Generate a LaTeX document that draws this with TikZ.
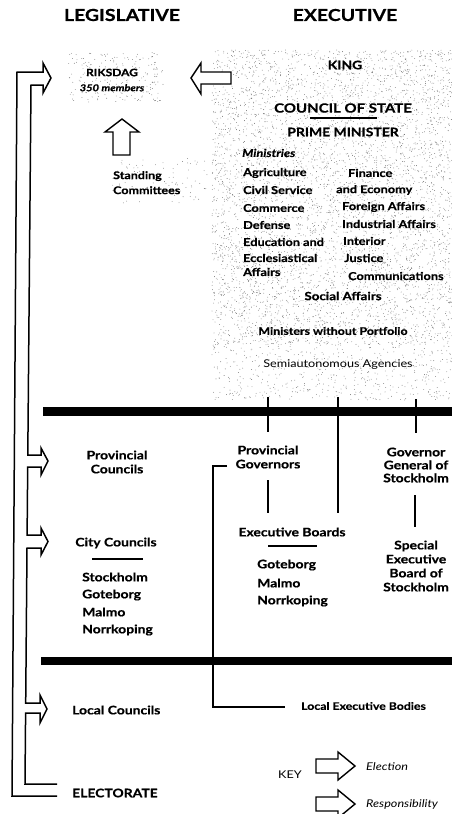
\documentclass[tikz,border=0pt]{standalone}
\usepackage{fontspec}
\setmainfont{Lato}[FakeStretch=1.18, BoldFeatures={FakeBold=0.6}, BoldItalicFeatures={FakeBold=0.6}]
\begin{document}
\begin{tikzpicture}[x=1pt,y=-1pt,
  title/.style={font=\bfseries\fontsize{16.5}{18}\selectfont, inner sep=0pt},
  lab/.style={font=\bfseries\fontsize{11.8}{14}\selectfont, inner sep=1pt, align=center},
  labl/.style={lab, inner sep=0pt, anchor=west, align=left},
  mlab/.style={font=\bfseries\fontsize{10.8}{14}\selectfont, inner sep=0pt, anchor=west, align=left},
  plain/.style={font=\fontsize{10.7}{13}\selectfont, inner sep=0pt},
  rule/.style={line width=1.3pt},
  bar/.style={fill=black},
  blockarrow/.style={draw, line width=1.4pt, fill=white, line join=miter},
  stip/.style={fill=black!55}]
\useasboundingbox (0,0) rectangle (452,814);
\clip (0,0) rectangle (452,814);

% stippled tone behind the executive block and the Riksdag
\pgfmathsetseed{42}
\foreach \i in {1,...,5200}{
  \pgfmathsetmacro\sx{212+240*rnd}\pgfmathsetmacro\sy{50+295*rnd}
  \fill[stip] (\sx,\sy) circle (0.42);}
\foreach \i in {1,...,500}{
  \pgfmathsetmacro\sx{212+240*rnd}\pgfmathsetmacro\sy{345+55*rnd}
  \fill[stip] (\sx,\sy) circle (0.42);}
\foreach \i in {1,...,220}{
  \pgfmathsetmacro\sx{68+95*rnd}\pgfmathsetmacro\sy{52+50*rnd}
  \fill[stip] (\sx,\sy) circle (0.42);}
\foreach \i in {1,...,90}{
  \pgfmathsetmacro\sx{112+95*rnd}\pgfmathsetmacro\sy{158+45*rnd}
  \fill[stip] (\sx,\sy) circle (0.42);}

% column headings
\node[title] (leg) at (122,15) {LEGISLATIVE};
\node[title] (exe) at (345,15) {EXECUTIVE};

% legislative side
\node[lab, font=\bfseries\fontsize{10.2}{12}\selectfont] (riksdag) at (112,80)
  {RIKSDAG\\[3pt]{\fontsize{9.4}{11}\selectfont\textit{350 members}}};
\node[labl, anchor=north west, font=\bfseries\fontsize{10.6}{15}\selectfont] (standing) at (113,171) {Standing\\Committees};
\node[lab] (provc) at (117,462) {Provincial\\Councils};
\node[lab] (cityc) at (116,543) {City Councils};
\coordinate (cityL) at (92,559);
\coordinate (cityR) at (143,559);
\node[labl] (stock) at (82,577) {Stockholm};
\node[labl] (gote) at (82,595) {Goteborg};
\node[labl] (malmo) at (82,612) {Malmo};
\node[labl] (norr) at (82,630) {Norrkoping};
\node[labl] (localc) at (72,710) {Local Councils};
\node[labl] (elect) at (72,793) {ELECTORATE};

% executive side
\node[lab] (king) at (345,65) {KING};
\node[lab, font=\bfseries\fontsize{12.7}{14}\selectfont] (council) at (343,108) {COUNCIL OF STATE};
\coordinate (csL) at (310,118);
\coordinate (csR) at (377,118);
\node[lab] (pm) at (343,132) {PRIME MINISTER};
\node[mlab] (ministries) at (242,153) {\textit{Ministries}};
\node[mlab] (m1) at (243,173) {Agriculture};
\node[mlab] (m2) at (243,190) {Civil Service};
\node[mlab] (m3) at (243,208) {Commerce};
\node[mlab] (m4) at (243,225) {Defense};
\node[mlab] (m5) at (243,242) {Education and};
\node[mlab] (m6) at (243,258) {Ecclesiastical};
\node[mlab] (m7) at (243,272) {Affairs};
\node[mlab] (n1) at (348,173) {Finance};
\node[mlab] (n2) at (336,190) {and Economy};
\node[mlab] (n3) at (342,207) {Foreign Affairs};
\node[mlab] (n4) at (342,224) {Industrial Affairs};
\node[mlab] (n5) at (343,241) {Interior};
\node[mlab] (n6) at (344,258) {Justice};
\node[mlab] (n7) at (348,276) {Communications};
\node[lab, font=\bfseries\fontsize{11.3}{14}\selectfont] (social) at (343,296) {Social Affairs};
\node[lab, font=\bfseries\fontsize{10.5}{14}\selectfont] (mwp) at (333,331) {Ministers without Portfolio};
\node[plain] (semi) at (338,365) {Semiautonomous Agencies};

\node[lab] (provg) at (268,457) {Provincial\\Governors};
\node[lab, font=\bfseries\fontsize{11.8}{13}\selectfont] (govgen) at (416,465) {Governor\\General of\\Stockholm};
\node[lab] (exboards) at (292,532) {Executive Boards};
\coordinate (ebL) at (268,546);
\coordinate (ebR) at (317,546);
\node[labl] (eg) at (257,565) {Goteborg};
\node[labl] (em) at (257,583) {Malmo};
\node[labl] (en) at (257,601) {Norrkoping};
\node[lab] (special) at (416,566) {Special\\Executive\\Board of\\Stockholm};
\node[labl, font=\bfseries\fontsize{10.4}{14}\selectfont] (localex) at (301,706) {Local Executive Bodies};

% key
\node[plain] (key) at (290,775) {KEY};
\node[plain, anchor=west] (kelect) at (366,767) {\textit{Election}};
\node[plain, anchor=west] (kresp) at (366,804) {\textit{Responsibility}};

% level dividers
\fill[bar] (43,407) rectangle (452,416);
\fill[bar] (41,657) rectangle (452,665);

% short rules under headings
\draw[rule] (csL) -- (csR);
\draw[rule] (cityL) -- (cityR);
\draw[rule] (ebL) -- (ebR);

% lines of responsibility
\coordinate (agA) at (268,397);
\coordinate (agB) at (338,397);
\coordinate (agC) at (416,399);
\coordinate (pgTop) at (268,432);
\coordinate (pgBot) at (268,480);
\coordinate (ebTop) at (268,513);
\coordinate (ebTop2) at (338,513);
\coordinate (ggTop) at (416,433);
\coordinate (ggBot) at (415,495);
\coordinate (spTop) at (415,527);
\coordinate (pgLeft) at (227,466);
\coordinate (lebEnd) at (285,707);
\draw[rule] (agA) -- (pgTop);
\draw[rule] (agB) -- (ebTop2);
\draw[rule] (agC) -- (ggTop);
\draw[rule] (pgBot) -- (ebTop);
\draw[rule] (ggBot) -- (spTop);
\draw[rule] (pgLeft) -- (213,466) -- (213,707) -- (lebEnd);

% election channel from the electorate up to each council
\draw[line width=1.5pt, line join=miter]
  (57,796) -- (12,796) -- (17,72) -- (43,72) -- (43,63) -- (51,78) -- (43,93) -- (43,85) -- (31,85)
  -- (27.8,455) -- (41,455) -- (41,448) -- (48,461) -- (41,475) -- (41,467) -- (27.7,467)
  -- (27.1,535) -- (41,535) -- (41,528) -- (48,541.5) -- (41,555) -- (41,548) -- (27,548)
  -- (25.7,703) -- (40,703) -- (40,695) -- (47,709) -- (40,723) -- (40,713) -- (25.6,713)
  -- (25,784) -- (57,784);

% responsibility of the executive to the Riksdag
\draw[blockarrow] (231,72) -- (201,72) -- (201,63) -- (191,78) -- (201,94) -- (201,84) -- (231,84) -- cycle;
% committees report to the Riksdag
\draw[blockarrow] (113,155) -- (113,132) -- (105,132) -- (122,119) -- (139,132) -- (130,132) -- (130,155) -- cycle;

% key arrows
\draw[blockarrow] (316,759) -- (338,759) -- (338,752) -- (355,766) -- (338,780) -- (338,773) -- (316,773) -- cycle;
\draw[blockarrow] (316,797) -- (338,797) -- (338,790) -- (355,804) -- (338,818) -- (338,811) -- (316,811) -- cycle;
\end{tikzpicture}
\end{document}
